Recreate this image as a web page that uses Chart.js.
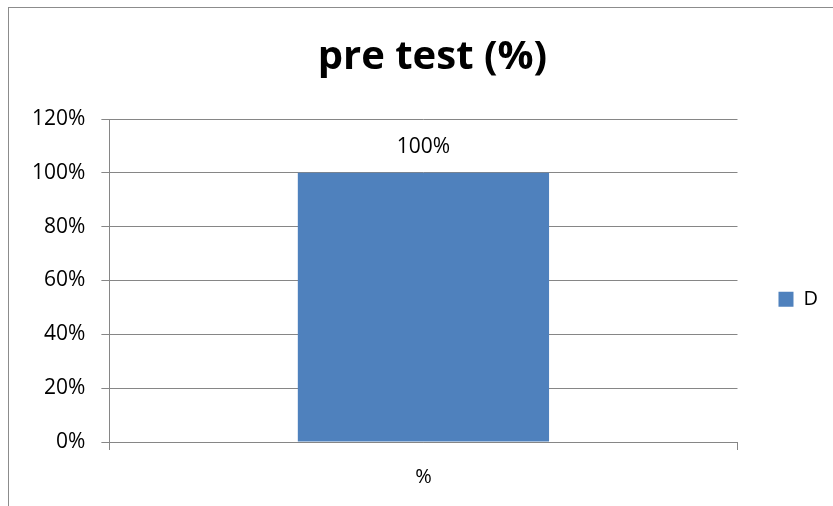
<!DOCTYPE html>
<html>
<head>
<meta charset="utf-8">
<script src="https://cdn.jsdelivr.net/npm/chart.js@4.4.0/dist/chart.umd.min.js"></script>
<style>
  html, body { margin: 0; padding: 0; background: #fff; }
  #wrap { position: relative; width: 833px; height: 506px; overflow: hidden; }
  #frame { position: absolute; left: 8px; top: 7px; width: 900px; height: 600px;
           border-left: 1px solid #8c8c8c; border-top: 1px solid #8c8c8c; }
  canvas { position: absolute; left: 0; top: 0; }
</style>
</head>
<body>
<div id="wrap">
  <div id="frame"></div>
  <canvas id="myChart" width="833" height="506"></canvas>
</div>
<script>
// Data
const categories = ['%'];
const seriesName = 'D';
const values = [100];
const yTicks = [0, 20, 40, 60, 80, 100, 120];

const gridColor = '#868686';
const fontFamily = '"Open Sans", sans-serif';

// Plugin: writes the value label above each bar
const valueLabels = {
    id: 'valueLabels',
    afterDatasetsDraw(chart) {
        const ctx = chart.ctx;
        ctx.save();
        ctx.font = '21px ' + fontFamily;
        ctx.fillStyle = '#000';
        ctx.textAlign = 'center';
        ctx.textBaseline = 'middle';
        chart.getDatasetMeta(0).data.forEach((bar, i) => {
            ctx.fillText(values[i] + '%', bar.x, bar.y - 26);
        });
        ctx.restore();
    }
};

const ctx = document.getElementById('myChart').getContext('2d');
new Chart(ctx, {
    type: 'bar',
    data: {
        labels: categories,
        datasets: [{
            label: seriesName,
            data: values,
            backgroundColor: '#4F81BD',
            borderWidth: 0,
            categoryPercentage: 1.0,
            barPercentage: 0.4
        }]
    },
    options: {
        responsive: false,
        animation: false,
        layout: { padding: { left: 16, right: 5, top: 34, bottom: 2 } },
        plugins: {
            title: {
                display: true,
                // two leading spaces nudge the centred title a bit right, as in the original
                text: '  pre test (%)',
                color: '#000',
                font: { family: fontFamily, size: 40, weight: 'bold' },
                padding: { top: 0, bottom: 37 }
            },
            legend: {
                position: 'right',
                // empty title only pushes the legend entry down
                title: { display: true, text: '', padding: { top: 0, bottom: 46 } },
                labels: {
                    color: '#000',
                    font: { family: fontFamily, size: 20 },
                    boxWidth: 15,
                    boxHeight: 15,
                    padding: 41
                }
            },
            tooltip: { enabled: false }
        },
        scales: {
            x: {
                grid: {
                    offset: true,
                    drawOnChartArea: false,
                    color: gridColor,
                    tickLength: 8
                },
                border: { color: gridColor },
                ticks: {
                    color: '#000',
                    font: { family: fontFamily, size: 20 },
                    padding: 15
                }
            },
            y: {
                min: 0,
                max: 120,
                afterBuildTicks(axis) {
                    axis.ticks = yTicks.map(v => ({ value: v }));
                },
                grid: { color: gridColor, tickLength: 8 },
                border: { color: gridColor },
                ticks: {
                    color: '#000',
                    font: { family: fontFamily, size: 21 },
                    padding: 16,
                    callback: v => v + '%'
                }
            }
        }
    },
    plugins: [valueLabels]
});
</script>
</body>
</html>
